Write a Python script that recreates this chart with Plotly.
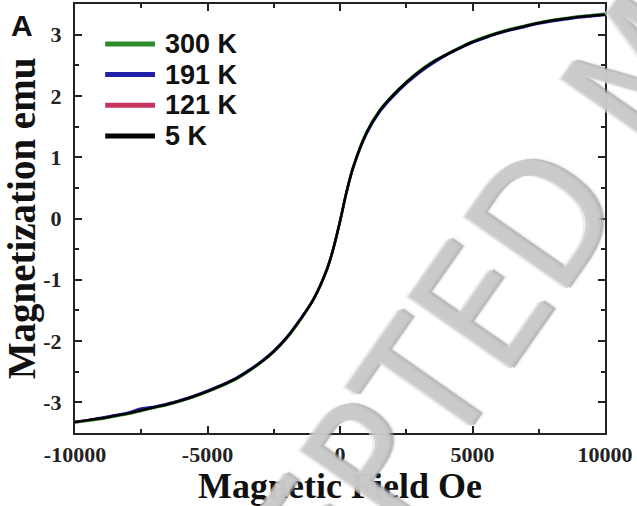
import plotly.graph_objects as go

# ---- data ----
field_oe = [-10000, -9500, -9000, -8500, -8000, -7500, -7000, -6500, -6000, -5500,
            -5000, -4500, -4000, -3500, -3000, -2500, -2000, -1500, -1000, -500,
            -250, 0, 250, 500, 1000, 1500, 2000, 2500, 3000, 3500,
            4000, 4500, 5000, 5500, 6000, 6500, 7000, 7500, 8000, 8500,
            9000, 9500, 10000]

m_300k = [-3.33, -3.30, -3.27, -3.23, -3.19, -3.14, -3.09, -3.04, -2.98, -2.91,
          -2.83, -2.74, -2.64, -2.51, -2.36, -2.18, -1.95, -1.66, -1.32, -0.84,
          -0.49, -0.05, 0.44, 0.85, 1.41, 1.77, 2.02, 2.23, 2.41, 2.56,
          2.68, 2.79, 2.89, 2.97, 3.04, 3.10, 3.15, 3.20, 3.24, 3.27,
          3.30, 3.32, 3.34]
m_191k = [-3.32, -3.29, -3.25, -3.21, -3.17, -3.10, -3.07, -3.02, -2.96, -2.89,
          -2.81, -2.72, -2.62, -2.49, -2.34, -2.16, -1.93, -1.64, -1.31, -0.83,
          -0.48, -0.04, 0.43, 0.83, 1.38, 1.74, 1.99, 2.20, 2.38, 2.53,
          2.66, 2.77, 2.87, 2.95, 3.02, 3.08, 3.13, 3.18, 3.22, 3.25,
          3.28, 3.30, 3.32]
m_121k = [-3.32, -3.29, -3.26, -3.22, -3.18, -3.13, -3.08, -3.03, -2.97, -2.90,
          -2.82, -2.73, -2.63, -2.50, -2.35, -2.17, -1.94, -1.65, -1.32, -0.84,
          -0.49, -0.05, 0.44, 0.84, 1.39, 1.75, 2.00, 2.21, 2.39, 2.54,
          2.67, 2.78, 2.88, 2.96, 3.03, 3.09, 3.14, 3.19, 3.23, 3.26,
          3.29, 3.31, 3.33]
m_5k = [-3.32, -3.29, -3.26, -3.22, -3.18, -3.13, -3.08, -3.03, -2.97, -2.90,
        -2.82, -2.73, -2.63, -2.50, -2.35, -2.17, -1.94, -1.65, -1.32, -0.84,
        -0.49, -0.05, 0.44, 0.84, 1.40, 1.76, 2.01, 2.22, 2.40, 2.55,
        2.67, 2.78, 2.88, 2.96, 3.03, 3.09, 3.14, 3.19, 3.23, 3.26,
        3.29, 3.31, 3.33]

series_names = ["300 K", "191 K", "121 K", "5 K"]
series_values = [m_300k, m_191k, m_121k, m_5k]
series_colors = ["#2e8b2e", "#1f1fa8", "#c8325e", "#000000"]

x_tickvals = [-10000, -5000, 0, 5000, 10000]
x_ticktext = ["-10000", "-5000", "0", "5000", "10000"]
y_tickvals = [-3, -2, -1, 0, 1, 2, 3]
y_ticktext = ["-3", "-2", "-1", "0", "1", "2", "3"]

x_title = "Magnetic Field Oe"
y_title = "Magnetization emu"
panel_label = "A"
watermark = "ACCEPTED MANUSCRIPT"

# ---- figure ----
fig = go.Figure()
draw_order = [2, 1, 0, 3]
for i in draw_order:
    fig.add_trace(go.Scatter(
        x=field_oe, y=series_values[i], mode="lines", name=series_names[i],
        line=dict(color=series_colors[i], width=2.5, shape="spline", smoothing=1.0),
        showlegend=False,
    ))

serif = "Liberation Serif, Times New Roman, serif"
sans = "Liberation Sans, Arial, sans-serif"

axis_common = dict(
    showline=True, linecolor="#222", linewidth=2, mirror="ticks",
    ticks="inside", ticklen=7, tickwidth=1.5, tickcolor="#222",
    showgrid=False, zeroline=False, automargin=False,
    tickfont=dict(family=serif, size=22, color="#222", weight=700),
)

fig.update_xaxes(
    range=[-10000, 10000], tickmode="array", tickvals=x_tickvals, ticktext=x_ticktext,
    minor=dict(dtick=2500, tick0=0, ticks="inside", ticklen=4, tickwidth=1.5, tickcolor="#222"),
    title=dict(text=x_title, font=dict(family=serif, size=36, color="#111", weight=700), standoff=6),
    ticklabelstandoff=1,
    **axis_common,
)
fig.update_yaxes(
    range=[-3.5, 3.5], tickmode="array", tickvals=y_tickvals, ticktext=y_ticktext,
    minor=dict(dtick=0.5, tick0=0, ticks="inside", ticklen=4, tickwidth=1.5, tickcolor="#222"),
    title=dict(text=y_title, font=dict(family=serif, size=39, color="#111", weight=700), standoff=6),
    ticklabelstandoff=7,
    **axis_common,
)

# manual legend (long, thick sample lines as in the reference)
legend_x0, legend_x1, legend_tx = 0.057, 0.151, 0.166
legend_y0, legend_dy = 0.907, 0.0715
for k, (name, color) in enumerate(zip(series_names, series_colors)):
    yy = legend_y0 - k * legend_dy
    fig.add_shape(type="line", xref="paper", yref="paper",
                  x0=legend_x0, x1=legend_x1, y0=yy, y1=yy,
                  line=dict(color=color, width=5))
    fig.add_annotation(xref="paper", yref="paper", x=legend_tx, y=yy,
                       text=name, showarrow=False, xanchor="left", yanchor="middle",
                       font=dict(family=sans, size=27, color="#111", weight=700))

# panel label
fig.add_annotation(xref="paper", yref="paper", x=-0.10, y=0.949, text=panel_label,
                   showarrow=False, xanchor="center", yanchor="middle",
                   font=dict(family=sans, size=30, color="#111", weight=700))

# watermark (light grey, bevelled look via stacked text shadows)
fig.add_annotation(xref="paper", yref="paper", x=1.082, y=0.85, text=watermark,
                   showarrow=False, textangle=-55, xanchor="center", yanchor="middle",
                   font=dict(family="Liberation Sans Narrow, DejaVu Sans Condensed, sans-serif",
                             size=172, color="rgba(200,200,200,0.8)",
                             shadow="-2px -2px 0px rgba(225,225,225,0.8), 2px 2px 0px rgba(165,165,165,0.75), 3px 3px 2px rgba(110,110,110,0.35)"))

fig.update_layout(
    width=637, height=506,
    margin=dict(l=75, r=32, t=4, b=73),
    paper_bgcolor="white", plot_bgcolor="white",
)

fig.write_html("out.html", config={"displayModeBar": False},
               post_script="document.body.style.margin='0px';document.body.style.overflow='hidden';")
